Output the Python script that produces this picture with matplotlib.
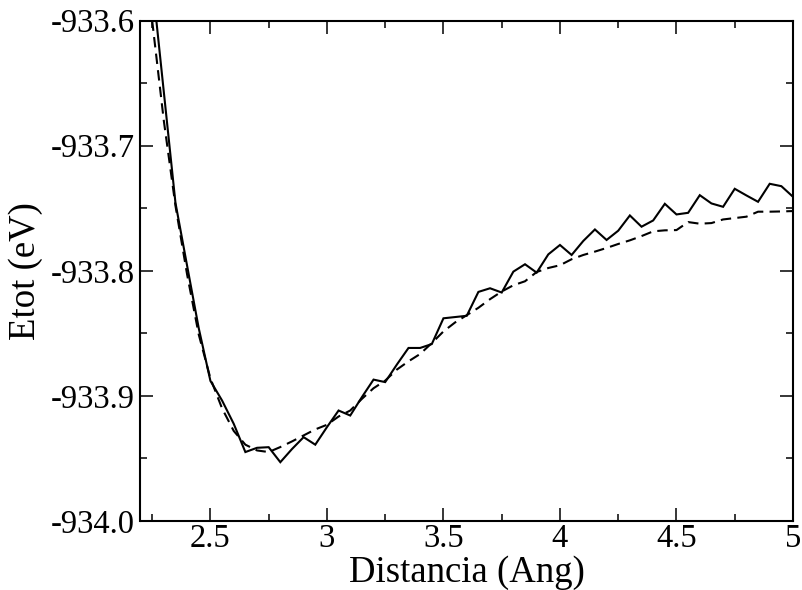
import numpy as np
import matplotlib
matplotlib.use("Agg")
import matplotlib.pyplot as plt
from matplotlib.ticker import MultipleLocator, FuncFormatter

# Distance grid (Angstrom)
distance = [2.25, 2.30, 2.35, 2.40, 2.45, 2.50, 2.55, 2.60, 2.65, 2.70,
            2.75, 2.80, 2.85, 2.90, 2.95, 3.00, 3.05, 3.10, 3.15, 3.20,
            3.25, 3.30, 3.35, 3.40, 3.45, 3.50, 3.55, 3.60, 3.65, 3.70,
            3.75, 3.80, 3.85, 3.90, 3.95, 4.00, 4.05, 4.10, 4.15, 4.20,
            4.25, 4.30, 4.35, 4.40, 4.45, 4.50, 4.55, 4.60, 4.65, 4.70,
            4.75, 4.80, 4.85, 4.90, 4.95, 5.00]

# Total energy, computed (solid line)
etot_calc = [-933.568, -933.657, -933.7457, -933.796, -933.846, -933.888,
             -933.9037, -933.9223, -933.9449, -933.9415, -933.941, -933.953,
             -933.9425, -933.933, -933.939, -933.925, -933.9117, -933.9157,
             -933.901, -933.887, -933.889, -933.875, -933.8617, -933.8617,
             -933.8586, -933.838, -933.837, -933.836, -933.8169, -933.814,
             -933.8174, -933.8007, -933.7948, -933.8015, -933.7869, -933.7794,
             -933.7874, -933.7762, -933.767, -933.7754, -933.768, -933.7558,
             -933.7648, -933.7598, -933.7465, -933.755, -933.7537, -933.7396,
             -933.7462, -933.7489, -933.7345, -933.7398, -933.7449, -933.7305,
             -933.7324, -933.7409]

# Total energy, fit (dashed line)
etot_fit = [-933.600, -933.680, -933.748, -933.803, -933.851, -933.886,
            -933.910, -933.928, -933.939, -933.9436, -933.9449, -933.9409,
            -933.9364, -933.9316, -933.9268, -933.9231, -933.9165, -933.9117,
            -933.9024, -933.8939, -933.8878, -933.8790, -933.8724, -933.8665,
            -933.8578, -933.8485, -933.8413, -933.8355, -933.8296, -933.8227,
            -933.8166, -933.8116, -933.8084, -933.8010, -933.7978, -933.7956,
            -933.7908, -933.7874, -933.7847, -933.7818, -933.7786, -933.7757,
            -933.7723, -933.7685, -933.7677, -933.7675, -933.7611, -933.7624,
            -933.7619, -933.7590, -933.7579, -933.7568, -933.7528, -933.7528,
            -933.7526, -933.7523]

plt.rcParams['font.family'] = ['Liberation Serif', 'DejaVu Serif']
plt.rcParams['axes.unicode_minus'] = False

W, H = 803, 590
fig = plt.figure(figsize=(W / 100, H / 100), dpi=100)
left_px, right_px, top_px, bottom_px = 140.5, 793.0, 20.5, 521.0
ax = fig.add_axes([left_px / W, 1 - bottom_px / H,
                   (right_px - left_px) / W, (bottom_px - top_px) / H])

ax.plot(distance, etot_calc, color='black', lw=1.5, solid_joinstyle='miter')
ax.plot(distance, etot_fit, color='black', lw=1.5, linestyle=(0, (5, 3)))

ax.set_xlim(2.2, 5.0)
ax.set_ylim(-934.0, -933.6)

ax.xaxis.set_major_locator(MultipleLocator(0.5))
ax.xaxis.set_minor_locator(MultipleLocator(0.25))
ax.yaxis.set_major_locator(MultipleLocator(0.1))
ax.yaxis.set_minor_locator(MultipleLocator(0.05))
ax.xaxis.set_major_formatter(FuncFormatter(lambda v, p: f"{v:g}"))
ax.yaxis.set_major_formatter(FuncFormatter(lambda v, p: f"{v:.1f}"))

ax.tick_params(which='both', direction='in', top=True, right=True, width=1.1, color='black')
ax.tick_params(which='major', length=9.5, labelsize=23.5)
ax.tick_params(axis='x', which='major', pad=2)
ax.tick_params(axis='y', which='major', pad=4.3)
ax.tick_params(which='minor', length=5)
for s in ax.spines.values():
    s.set_linewidth(1.5)

ax.set_xlabel('Distancia (Ang)', fontsize=26.5, va='baseline')
ax.xaxis.set_label_coords(0.5, (bottom_px - 581.7) / (bottom_px - top_px))
ax.set_ylabel('Etot (eV)', fontsize=26.5)
ax.yaxis.label.set_va('baseline')
ax.yaxis.set_label_coords((35.0 - left_px) / (right_px - left_px), 0.5)

fig.savefig('out.png', dpi=100)
